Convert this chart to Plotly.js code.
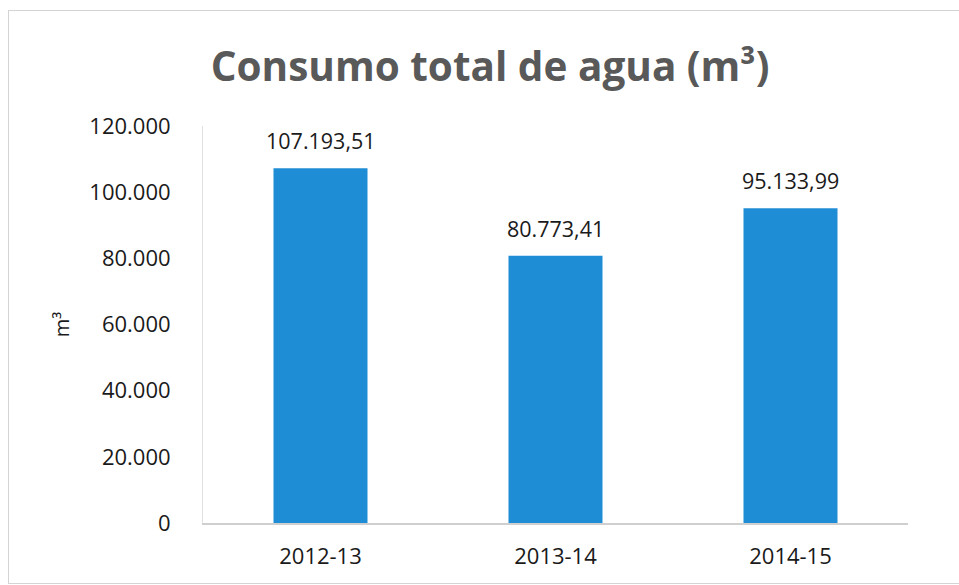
<!DOCTYPE html>
<html>
<head>
<meta charset="utf-8">
<script src="https://cdn.plot.ly/plotly-3.0.1.min.js"></script>
<style>
html,body{margin:0;padding:0;background:#fff;}
#wrap{position:relative;width:959px;height:585px;}
#chart{position:absolute;left:0;top:0;width:959px;height:585px;}
#frame{position:absolute;left:8px;top:10px;width:960px;height:572px;border:1px solid #d4d4d4;pointer-events:none;}
</style>
</head>
<body>
<div id="wrap"><div id="chart"></div><div id="frame"></div></div>
<script>
const categories = ['2012-13', '2013-14', '2014-15'];
const consumo = [107193.51, 80773.41, 95133.99];
const tickValues = [0, 20000, 40000, 60000, 80000, 100000, 120000];
const tickLabels = ['0', '20.000', '40.000', '60.000', '80.000', '100.000', '120.000'];
const valueLabels = ['107.193,51', '80.773,41', '95.133,99'];

const font = '"Open Sans", "Noto Sans", sans-serif';

const trace = {
  type: 'bar',
  x: categories,
  y: consumo,
  marker: {color: '#1f8dd6'},
  hoverinfo: 'x+y'
};

const annotations = categories.map((c, i) => ({
  x: c, y: consumo[i], xref: 'x', yref: 'y',
  text: valueLabels[i], showarrow: false,
  yanchor: 'bottom', yshift: 11,
  font: {family: font, size: 21.5, color: '#1a1a1a'}
}));

const layout = {
  width: 959, height: 585,
  margin: {l: 203, r: 51, t: 126, b: 62},
  paper_bgcolor: '#fff', plot_bgcolor: '#fff',
  separators: ',.',
  showlegend: false,
  bargap: 0.6,
  title: {
    text: 'Consumo total de agua (m³)',
    font: {family: font, size: 40.5, color: '#595959', weight: 'bold'},
    x: 0.511, xanchor: 'center', y: 0.885, yanchor: 'middle'
  },
  xaxis: {
    type: 'category',
    showgrid: false, zeroline: false,
    showline: true, linecolor: '#cfcfcf', linewidth: 1.5,
    ticks: '', ticklabelstandoff: 13,
    tickfont: {family: font, size: 22, color: '#1a1a1a'}
  },
  yaxis: {
    range: [0, 120000],
    tickvals: tickValues, ticktext: tickLabels,
    showgrid: false, zeroline: false,
    showline: true, linecolor: '#e0e0e0', linewidth: 1,
    ticks: '', ticklabelstandoff: 27,
    tickfont: {family: font, size: 22, color: '#1a1a1a'},
    title: {text: 'm³', standoff: 14, font: {family: font, size: 20, color: '#1a1a1a'}}
  },
  annotations: annotations
};

Plotly.newPlot('chart', [trace], layout, {displayModeBar: false, staticPlot: true});
</script>
</body>
</html>
